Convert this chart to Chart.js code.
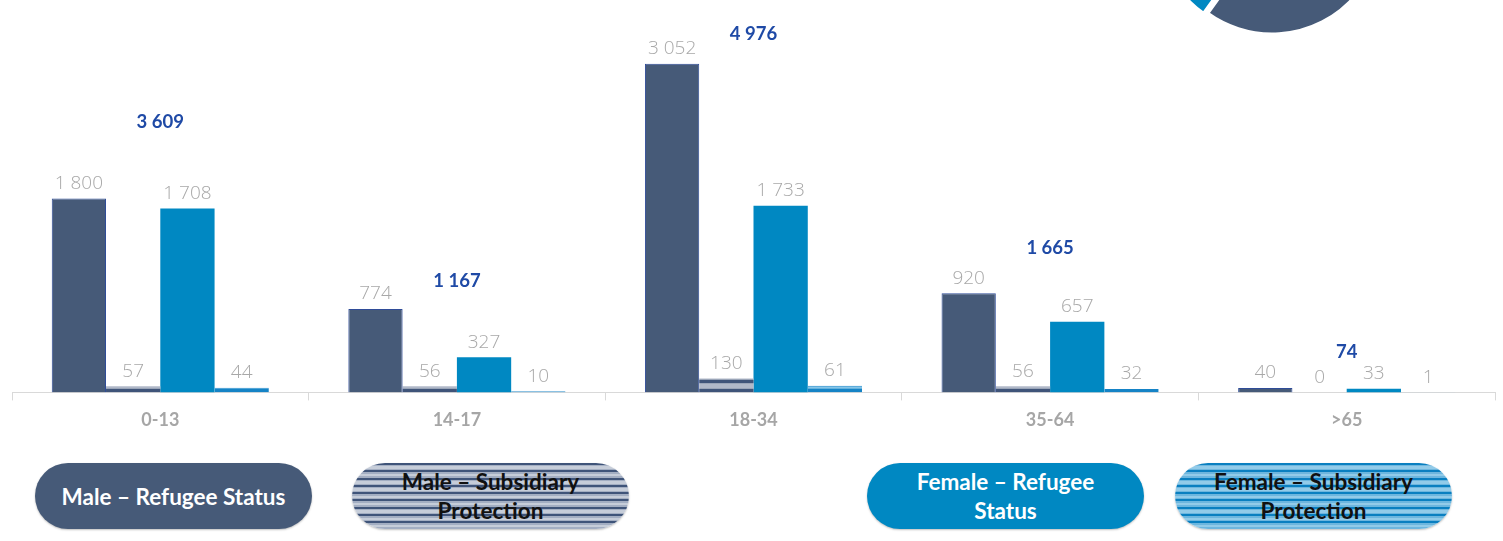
<!DOCTYPE html>
<html>
<head>
<meta charset="utf-8">
<script src="https://cdn.jsdelivr.net/npm/chart.js@4.4.1/dist/chart.umd.min.js"></script>
<style>
  html, body { margin:0; padding:0; width:1503px; height:541px; overflow:hidden; background:#fff; }
  #wrap { position:absolute; left:0; top:0; width:1503px; height:440px; }
  #pieWrap { position:absolute; left:1132px; top:-216px; width:280px; height:280px; }
  .pill { position:absolute; top:463px; height:66px; width:277px; border-radius:33px;
          display:flex; align-items:center; justify-content:center; text-align:center;
          font-family:Lato, "Open Sans", sans-serif; font-weight:700; font-size:22.5px; line-height:29px;
          white-space:pre-line; box-shadow:0 1px 2px rgba(0,0,0,0.25); box-sizing:border-box; }
  .p0 { left:35px; background:#465A78; color:#fff; }
  .p1 { left:352px; color:#111;
        background:repeating-linear-gradient(to bottom, #3F5479 0px, #3F5479 2px, #A3AEC2 2px, #A3AEC2 3.5px, #C6CDD9 3.5px, #C6CDD9 6px, #A3AEC2 6px, #A3AEC2 7.3px); }
  .p2 { left:867px; background:#0088C2; color:#fff; }
  .p3 { left:1175px; color:#111;
        background:repeating-linear-gradient(to bottom, #0A7FC0 0px, #0A7FC0 2px, #6DB6DE 2px, #6DB6DE 3.5px, #92CBE9 3.5px, #92CBE9 6px, #6DB6DE 6px, #6DB6DE 7.3px); }
</style>
</head>
<body>
<div id="pieWrap"><canvas id="pie"></canvas></div>
<div id="wrap"><canvas id="c"></canvas></div>
<div id="legend"></div>
<script>
const categories = ['0-13', '14-17', '18-34', '35-64', '>65'];
const maleRefugee = [1800, 774, 3052, 920, 40];
const maleSubsidiary = [57, 56, 130, 56, 0];
const femaleRefugee = [1708, 327, 1733, 657, 33];
const femaleSubsidiary = [44, 10, 61, 32, 1];
const groupTotals = [3609, 1167, 4976, 1665, 74];
const legendLabels = ['Male – Refugee Status', 'Male – Subsidiary\nProtection', 'Female – Refugee\nStatus', 'Female – Subsidiary\nProtection'];
const pieLabels = ['Male', 'Female'];
const pieValues = [6885, 4606];

function fmt(n) { return String(n).replace(/\B(?=(\d{3})+(?!\d))/g, ' '); }

function stripe(light, mid, dark) {
  const p = document.createElement('canvas');
  p.width = 8; p.height = 9;
  const g = p.getContext('2d');
  g.fillStyle = light; g.fillRect(0, 0, 8, 9);
  g.fillStyle = mid; g.fillRect(0, 1, 8, 1); g.fillRect(0, 5, 8, 1);
  g.fillStyle = dark; g.fillRect(0, 2, 8, 3);
  return g.createPattern(p, 'repeat');
}
const greyStripe = stripe('#B0B8C8', '#9AA5B8', '#3F5479');
const blueStripe = stripe('#86C5E8', '#63B1DD', '#1583C6');

// legend pills
const leg = document.getElementById('legend');
legendLabels.forEach((t, i) => {
  const d = document.createElement('div');
  d.className = 'pill p' + i;
  d.textContent = t;
  leg.appendChild(d);
});

const labelPlugin = {
  id: 'valueLabels',
  afterDatasetsDraw(chart) {
    const ctx = chart.ctx;
    ctx.save();
    ctx.textAlign = 'center';
    ctx.textBaseline = 'middle';
    for (let i = 0; i < 4; i++) {
      const meta = chart.getDatasetMeta(i);
      const ds = chart.data.datasets[i];
      ctx.font = '300 19px "Open Sans", sans-serif';
      ctx.fillStyle = '#A8A8A8';
      meta.data.forEach((bar, j) => {
        ctx.fillText(fmt(ds.data[j]), bar.x, bar.y - 15);
      });
    }
    const tm = chart.getDatasetMeta(4);
    ctx.font = 'bold 18.5px Lato, "Open Sans", sans-serif';
    ctx.fillStyle = '#1F4AA6';
    tm.data.forEach((pt, j) => {
      ctx.fillText(fmt(chart.data.datasets[4].data[j]), pt.x, pt.y);
    });
    ctx.restore();
  }
};

new Chart(document.getElementById('c'), {
  type: 'bar',
  data: {
    labels: categories,
    datasets: [
      { label: 'Male – Refugee Status', data: maleRefugee, backgroundColor: '#465A78', borderColor: '#2F4C98', borderWidth: 1, borderSkipped: 'bottom' },
      { label: 'Male – Subsidiary Protection', data: maleSubsidiary, backgroundColor: greyStripe, borderWidth: 0 },
      { label: 'Female – Refugee Status', data: femaleRefugee, backgroundColor: '#0088C2', borderWidth: 0 },
      { label: 'Female – Subsidiary Protection', data: femaleSubsidiary, backgroundColor: blueStripe, borderColor: '#1583C6', borderWidth: {top: 1, left: 0, right: 0, bottom: 0} },
      { type: 'line', label: 'Total', data: groupTotals, yAxisID: 'y2', showLine: false, pointRadius: 0, pointHoverRadius: 0 }
    ]
  },
  options: {
    responsive: true,
    maintainAspectRatio: false,
    animation: false,
    layout: { padding: { left: 12, right: 8, top: 0, bottom: 0 } },
    datasets: { bar: { categoryPercentage: 0.732, barPercentage: 1 } },
    plugins: { legend: { display: false }, tooltip: { enabled: false } },
    scales: {
      x: {
        grid: { offset: true, drawOnChartArea: false, drawTicks: true, tickLength: 8, color: '#D9D9D9' },
        border: { display: true, color: '#D9D9D9', width: 1 },
        ticks: { color: '#A6A6A6', font: { family: 'Lato, "Open Sans", sans-serif', weight: 'bold', size: 18 }, padding: 9 }
      },
      y: { display: false, min: 0, max: 3644 },
      y2: { display: false, min: -556, max: 5499 }
    }
  },
  plugins: [labelPlugin]
});

new Chart(document.getElementById('pie'), {
  type: 'pie',
  data: {
    labels: pieLabels,
    datasets: [{ data: pieValues, backgroundColor: ['#465A78', '#0088C2'], borderColor: '#ffffff', borderWidth: 3, offset: [0, 14], radius: 110 }]
  },
  options: {
    responsive: true, maintainAspectRatio: false, animation: false,
    plugins: { legend: { display: false }, tooltip: { enabled: false } }
  }
});
</script>
</body>
</html>
